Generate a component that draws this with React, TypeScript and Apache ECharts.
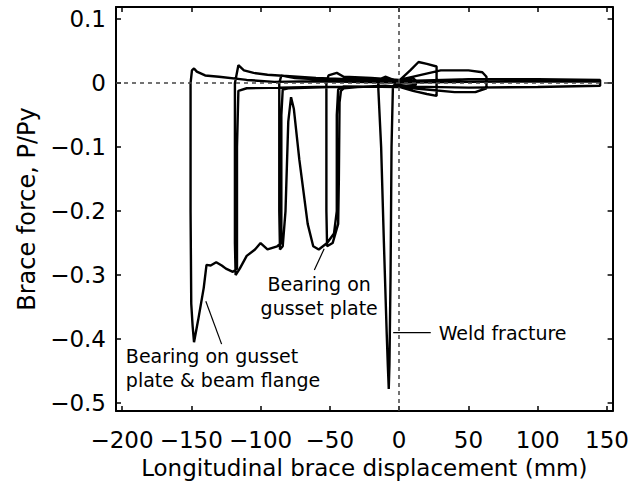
import React, { useEffect, useRef } from "react";
import * as echarts from "echarts";

// Axis ranges and tick labels
const xMin = -204.3;
const xMax = 154;
const yMin = -0.5125;
const yMax = 0.119;
const xTicks = [-200, -150, -100, -50, 0, 50, 100, 150];
const yTicks = [-0.5, -0.4, -0.3, -0.2, -0.1, 0, 0.1];

// Hysteresis path: displacement (mm)
const dispMm = [
  0, 5, 10, 12, 12, 5, 0, -3,
  // cycle a (weld fracture)
  -4.5, -5.5, -6.2, -7, -7.5, -8.2, -9, -11, -13, -15, -15, -10, -5, 0,
  // tension 2
  8, 14, 20, 27, 27, 20, 10, 0, -10,
  // cycle b
  -30, -40, -42, -43, -43.5, -44, -48, -52, -52.5, -52.5, -51, -45, -40, -20, 0,
  // tension 3
  30, 50, 60, 63, 63, 55, 40, 20, 0,
  // cycle c
  -40, -44, -45, -45, -47, -52, -58, -62, -66, -72, -76, -78, -80, -82, -84, -86, -86.5, -86.5, -85, -75, -50, -20, 0,
  // tension 4
  50, 100, 145, 145, 100, 50, 0,
  // cycle d
  -50, -80, -84, -85, -85, -88, -95, -100, -104, -110, -115, -118, -118.5, -118.5, -116, -112, -105, -95, -60, 0,
  // tension 5
  50, 100, 145, 145, 100, 50, 0,
  // cycle e
  -60, -110, -116, -117, -117, -120, -125, -128, -132, -136, -139, -141, -145, -148, -149, -150, -150.5, -150.5, -149.5, -148, -146, -140, -130, -110, -90, -60, 0, 50, 145,
];

// Brace force P/Py
const forcePPy = [
  0, 0.005, 0.008, 0.004, -0.003, -0.004, -0.003, -0.002,
  -0.005, -0.1, -0.3, -0.44, -0.478, -0.44, -0.39, -0.25, -0.1, -0.01, 0.005, 0.01, 0.006, 0.004,
  0.02, 0.033, 0.03, 0.026, -0.02, -0.017, -0.012, -0.006, -0.004,
  -0.006, -0.008, -0.012, -0.03, -0.15, -0.22, -0.25, -0.255, -0.2, 0.0, 0.012, 0.016, 0.01, 0.008, 0.005,
  0.02, 0.02, 0.017, 0.01, -0.008, -0.014, -0.014, -0.01, -0.006,
  -0.005, -0.01, -0.05, -0.2, -0.235, -0.25, -0.26, -0.255, -0.22, -0.12, -0.04, -0.022, -0.06, -0.2, -0.255, -0.26, -0.2, 0.0, 0.012, 0.008, 0.005, 0.003, 0.002,
  0.006, 0.006, 0.005, -0.004, -0.006, -0.007, -0.005,
  -0.006, -0.008, -0.01, -0.05, -0.25, -0.255, -0.26, -0.25, -0.26, -0.27, -0.29, -0.3, -0.25, 0.0, 0.028, 0.02, 0.016, 0.013, 0.008, 0.003,
  0.006, 0.006, 0.005, -0.004, -0.006, -0.007, -0.005,
  -0.006, -0.008, -0.012, -0.1, -0.29, -0.295, -0.29, -0.285, -0.28, -0.285, -0.284, -0.32, -0.37, -0.405, -0.38, -0.345, -0.2, 0.0, 0.02, 0.023, 0.018, 0.012, 0.01, 0.005, 0.002, 0.003, 0.001, 0.002, 0.003,
];

// Annotations (data coordinates)
const annotations = [
  { text: "Bearing on gusset\nplate & beam flange", at: [-197.2, -0.407], align: "left", lineFrom: [-139.5, -0.341], lineTo: [-128.1, -0.408] },
  { text: "Bearing on\ngusset plate", at: [-57.7, -0.296], align: "center", lineFrom: [-54.1, -0.259], lineTo: [-61.2, -0.292] },
  { text: "Weld fracture", at: [28.5, -0.39], align: "left", lineFrom: [-4.3, -0.39], lineTo: [22.8, -0.39], middle: true },
];

const FONT = "'DejaVu Sans', 'Liberation Sans', Arial, sans-serif";

const fmt = (v: number) => {
  if (Math.abs(v) < 1e-9) return "0";
  const s = Math.abs(v) >= 1 ? String(Math.round(Math.abs(v))) : Math.abs(v).toFixed(1);
  return (v < 0 ? "\u2212" : "") + s;
};

export default function App() {
  const ref = useRef<HTMLDivElement>(null);
  useEffect(() => {
    if (!ref.current) return;
    const chart = echarts.init(ref.current, undefined, { renderer: "svg" });
    const data = dispMm.map((x, i) => [x, forcePPy[i]]);
    const axisLine = { show: true, onZero: false, lineStyle: { color: "#000", width: 2 } };
    const tick = (vals: number[]) => ({ show: true, inside: true, length: 5, customValues: vals, lineStyle: { color: "#000", width: 1.5 } });
    chart.setOption({
      animation: false,
      backgroundColor: "#fff",
      grid: { left: 116, right: 13, top: 7, bottom: 77 },
      xAxis: [
        {
          type: "value", min: xMin, max: xMax, position: "bottom",
          axisLine, axisTick: tick(xTicks), splitLine: { show: false },
          axisLabel: { customValues: xTicks, formatter: fmt, fontSize: 23, color: "#000", margin: 17, fontFamily: FONT },
          name: "Longitudinal brace displacement (mm)", nameLocation: "middle", nameGap: 45,
          nameTextStyle: { fontSize: 23, color: "#000", fontFamily: FONT },
        },
        {
          type: "value", min: xMin, max: xMax, position: "top",
          axisLine, axisTick: tick(xTicks), splitLine: { show: false }, axisLabel: { show: false },
        },
      ],
      yAxis: [
        {
          type: "value", min: yMin, max: yMax, position: "left",
          axisLine, axisTick: tick(yTicks), splitLine: { show: false },
          axisLabel: { customValues: yTicks, formatter: fmt, fontSize: 23, color: "#000", margin: 10, fontFamily: FONT },
          name: "Brace force, P/Py", nameLocation: "middle", nameGap: 74,
          nameTextStyle: { fontSize: 24, color: "#000", fontFamily: FONT },
        },
        {
          type: "value", min: yMin, max: yMax, position: "right",
          axisLine, axisTick: tick(yTicks), splitLine: { show: false }, axisLabel: { show: false },
        },
      ],
      series: [
        {
          type: "line", data, showSymbol: false, symbol: "none",
          lineStyle: { color: "#000", width: 2.4 },
          z: 3,
          markLine: {
            silent: true, symbol: "none", label: { show: false },
            lineStyle: { type: [4, 4], color: "#444", width: 1.5 },
            data: [{ yAxis: 0 }, { xAxis: 0 }],
            z: 4,
          },
        },
      ],
    });
    const px = (p: number[]) => chart.convertToPixel({ xAxisIndex: 0, yAxisIndex: 0 }, p) as number[];
    const graphics: any[] = [];
    annotations.forEach((a) => {
      const f = px(a.lineFrom);
      const t = px(a.lineTo);
      graphics.push({ type: "line", shape: { x1: f[0], y1: f[1], x2: t[0], y2: t[1] }, style: { stroke: "#000", lineWidth: 1.2 }, z: 10 });
      const p = px(a.at);
      graphics.push({
        type: "text", x: p[0], y: p[1], z: 10,
        style: {
          text: a.text, font: `19px ${FONT}`, fill: "#000", lineHeight: 24,
          align: a.align, verticalAlign: a.middle ? "middle" : "top",
        },
      });
    });
    chart.setOption({ graphic: graphics });
    return () => chart.dispose();
  }, []);
  return <div ref={ref} style={{ position: "fixed", left: 0, top: 0, width: 632, height: 488 }} />;
}
